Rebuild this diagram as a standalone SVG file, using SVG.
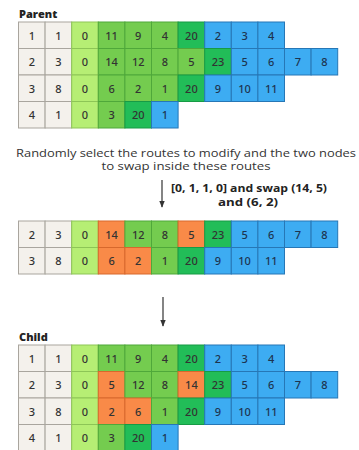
<svg xmlns="http://www.w3.org/2000/svg" width="359" height="450" viewBox="0 0 359 450">
<style>
rect{stroke-width:1}
.g{fill:#f4f1ec;stroke:#a9a59e}
.lg{fill:#b6ee74;stroke:#8dc556}
.mg{fill:#74cc4f;stroke:#4fa83a}
.dg{fill:#22bd58;stroke:#179a45}
.b{fill:#3dacf2;stroke:#2677b6}
.o{fill:#f98a48;stroke:#d7682c}
text{font-family:"Noto Sans","Liberation Sans",sans-serif;font-size:11px;font-weight:500;fill:#333;text-anchor:middle}
.bt{fill:#1d3450}
.ttl{font-family:"Open Sans","Liberation Sans",sans-serif;font-weight:800;font-size:11px;text-anchor:start;fill:#222}
.cap{font-family:"Open Sans","Liberation Sans",sans-serif;font-size:10px;font-weight:500;fill:#333}
.lbl{font-family:"Open Sans","Liberation Sans",sans-serif;font-size:9.8px;font-weight:700;fill:#222}
.arr{stroke:#333;stroke-width:1.2;fill:none}
</style>
<defs>
<marker id="ah" viewBox="0 0 10 10" refX="9" refY="5" markerWidth="6" markerHeight="6" orient="auto"><path d="M0,1 L10,5 L0,9 z" fill="#333"/></marker>
</defs>

<g id="parent">
<text class="ttl" x="19" y="18">Parent</text>
<g transform="translate(18.5,22)">
<rect class="g" x="0" y="0" width="26.6" height="26.5"/><text x="13.3" y="17.5">1</text>
<rect class="g" x="26.6" y="0" width="26.6" height="26.5"/><text x="39.9" y="17.5">1</text>
<rect class="lg" x="53.2" y="0" width="26.6" height="26.5"/><text x="66.5" y="17.5">0</text>
<rect class="mg" x="79.8" y="0" width="26.6" height="26.5"/><text x="93.1" y="17.5">11</text>
<rect class="mg" x="106.4" y="0" width="26.6" height="26.5"/><text x="119.7" y="17.5">9</text>
<rect class="mg" x="133" y="0" width="26.6" height="26.5"/><text x="146.3" y="17.5">4</text>
<rect class="dg" x="159.6" y="0" width="26.6" height="26.5"/><text x="172.9" y="17.5">20</text>
<rect class="b" x="186.2" y="0" width="26.6" height="26.5"/><text class="bt" x="199.5" y="17.5">2</text>
<rect class="b" x="212.8" y="0" width="26.6" height="26.5"/><text class="bt" x="226.1" y="17.5">3</text>
<rect class="b" x="239.4" y="0" width="26.6" height="26.5"/><text class="bt" x="252.7" y="17.5">4</text>
</g>
<g transform="translate(18.5,48.5)">
<rect class="g" x="0" y="0" width="26.6" height="26.5"/><text x="13.3" y="17.5">2</text>
<rect class="g" x="26.6" y="0" width="26.6" height="26.5"/><text x="39.9" y="17.5">3</text>
<rect class="lg" x="53.2" y="0" width="26.6" height="26.5"/><text x="66.5" y="17.5">0</text>
<rect class="mg" x="79.8" y="0" width="26.6" height="26.5"/><text x="93.1" y="17.5">14</text>
<rect class="mg" x="106.4" y="0" width="26.6" height="26.5"/><text x="119.7" y="17.5">12</text>
<rect class="mg" x="133" y="0" width="26.6" height="26.5"/><text x="146.3" y="17.5">8</text>
<rect class="mg" x="159.6" y="0" width="26.6" height="26.5"/><text x="172.9" y="17.5">5</text>
<rect class="dg" x="186.2" y="0" width="26.6" height="26.5"/><text x="199.5" y="17.5">23</text>
<rect class="b" x="212.8" y="0" width="26.6" height="26.5"/><text class="bt" x="226.1" y="17.5">5</text>
<rect class="b" x="239.4" y="0" width="26.6" height="26.5"/><text class="bt" x="252.7" y="17.5">6</text>
<rect class="b" x="266" y="0" width="26.6" height="26.5"/><text class="bt" x="279.3" y="17.5">7</text>
<rect class="b" x="292.6" y="0" width="26.6" height="26.5"/><text class="bt" x="305.9" y="17.5">8</text>
</g>
<g transform="translate(18.5,75)">
<rect class="g" x="0" y="0" width="26.6" height="26.5"/><text x="13.3" y="17.5">3</text>
<rect class="g" x="26.6" y="0" width="26.6" height="26.5"/><text x="39.9" y="17.5">8</text>
<rect class="lg" x="53.2" y="0" width="26.6" height="26.5"/><text x="66.5" y="17.5">0</text>
<rect class="mg" x="79.8" y="0" width="26.6" height="26.5"/><text x="93.1" y="17.5">6</text>
<rect class="mg" x="106.4" y="0" width="26.6" height="26.5"/><text x="119.7" y="17.5">2</text>
<rect class="mg" x="133" y="0" width="26.6" height="26.5"/><text x="146.3" y="17.5">1</text>
<rect class="dg" x="159.6" y="0" width="26.6" height="26.5"/><text x="172.9" y="17.5">20</text>
<rect class="b" x="186.2" y="0" width="26.6" height="26.5"/><text class="bt" x="199.5" y="17.5">9</text>
<rect class="b" x="212.8" y="0" width="26.6" height="26.5"/><text class="bt" x="226.1" y="17.5">10</text>
<rect class="b" x="239.4" y="0" width="26.6" height="26.5"/><text class="bt" x="252.7" y="17.5">11</text>
</g>
<g transform="translate(18.5,101.5)">
<rect class="g" x="0" y="0" width="26.6" height="26.5"/><text x="13.3" y="17.5">4</text>
<rect class="g" x="26.6" y="0" width="26.6" height="26.5"/><text x="39.9" y="17.5">1</text>
<rect class="lg" x="53.2" y="0" width="26.6" height="26.5"/><text x="66.5" y="17.5">0</text>
<rect class="mg" x="79.8" y="0" width="26.6" height="26.5"/><text x="93.1" y="17.5">3</text>
<rect class="dg" x="106.4" y="0" width="26.6" height="26.5"/><text x="119.7" y="17.5">20</text>
<rect class="b" x="133" y="0" width="26.6" height="26.5"/><text class="bt" x="146.3" y="17.5">1</text>
</g>
</g>

<g id="caption">
<text class="cap" x="186" y="157" textLength="340" lengthAdjust="spacingAndGlyphs">Randomly select the routes to modify and the two nodes</text>
<text class="cap" x="186" y="170" textLength="169" lengthAdjust="spacingAndGlyphs">to swap inside these routes</text>
</g>

<g id="swap-label">
<text class="lbl" x="249" y="192" textLength="156" lengthAdjust="spacingAndGlyphs">[0, 1, 1, 0] and swap (14, 5)</text>
<text class="lbl" x="248" y="205.5" textLength="60" lengthAdjust="spacingAndGlyphs">and (6, 2)</text>
</g>

<g id="modified">
<g transform="translate(18.5,221)">
<rect class="g" x="0" y="0" width="26.6" height="26.5"/><text x="13.3" y="17.5">2</text>
<rect class="g" x="26.6" y="0" width="26.6" height="26.5"/><text x="39.9" y="17.5">3</text>
<rect class="lg" x="53.2" y="0" width="26.6" height="26.5"/><text x="66.5" y="17.5">0</text>
<rect class="o" x="79.8" y="0" width="26.6" height="26.5"/><text x="93.1" y="17.5">14</text>
<rect class="mg" x="106.4" y="0" width="26.6" height="26.5"/><text x="119.7" y="17.5">12</text>
<rect class="mg" x="133" y="0" width="26.6" height="26.5"/><text x="146.3" y="17.5">8</text>
<rect class="o" x="159.6" y="0" width="26.6" height="26.5"/><text x="172.9" y="17.5">5</text>
<rect class="dg" x="186.2" y="0" width="26.6" height="26.5"/><text x="199.5" y="17.5">23</text>
<rect class="b" x="212.8" y="0" width="26.6" height="26.5"/><text class="bt" x="226.1" y="17.5">5</text>
<rect class="b" x="239.4" y="0" width="26.6" height="26.5"/><text class="bt" x="252.7" y="17.5">6</text>
<rect class="b" x="266" y="0" width="26.6" height="26.5"/><text class="bt" x="279.3" y="17.5">7</text>
<rect class="b" x="292.6" y="0" width="26.6" height="26.5"/><text class="bt" x="305.9" y="17.5">8</text>
</g>
<g transform="translate(18.5,247.5)">
<rect class="g" x="0" y="0" width="26.6" height="26.5"/><text x="13.3" y="17.5">3</text>
<rect class="g" x="26.6" y="0" width="26.6" height="26.5"/><text x="39.9" y="17.5">8</text>
<rect class="lg" x="53.2" y="0" width="26.6" height="26.5"/><text x="66.5" y="17.5">0</text>
<rect class="o" x="79.8" y="0" width="26.6" height="26.5"/><text x="93.1" y="17.5">6</text>
<rect class="o" x="106.4" y="0" width="26.6" height="26.5"/><text x="119.7" y="17.5">2</text>
<rect class="mg" x="133" y="0" width="26.6" height="26.5"/><text x="146.3" y="17.5">1</text>
<rect class="dg" x="159.6" y="0" width="26.6" height="26.5"/><text x="172.9" y="17.5">20</text>
<rect class="b" x="186.2" y="0" width="26.6" height="26.5"/><text class="bt" x="199.5" y="17.5">9</text>
<rect class="b" x="212.8" y="0" width="26.6" height="26.5"/><text class="bt" x="226.1" y="17.5">10</text>
<rect class="b" x="239.4" y="0" width="26.6" height="26.5"/><text class="bt" x="252.7" y="17.5">11</text>
</g>
</g>

<g id="child">
<text class="ttl" x="19" y="341">Child</text>
<g transform="translate(18.5,345)">
<rect class="g" x="0" y="0" width="26.6" height="26.5"/><text x="13.3" y="17.5">1</text>
<rect class="g" x="26.6" y="0" width="26.6" height="26.5"/><text x="39.9" y="17.5">1</text>
<rect class="lg" x="53.2" y="0" width="26.6" height="26.5"/><text x="66.5" y="17.5">0</text>
<rect class="mg" x="79.8" y="0" width="26.6" height="26.5"/><text x="93.1" y="17.5">11</text>
<rect class="mg" x="106.4" y="0" width="26.6" height="26.5"/><text x="119.7" y="17.5">9</text>
<rect class="mg" x="133" y="0" width="26.6" height="26.5"/><text x="146.3" y="17.5">4</text>
<rect class="dg" x="159.6" y="0" width="26.6" height="26.5"/><text x="172.9" y="17.5">20</text>
<rect class="b" x="186.2" y="0" width="26.6" height="26.5"/><text class="bt" x="199.5" y="17.5">2</text>
<rect class="b" x="212.8" y="0" width="26.6" height="26.5"/><text class="bt" x="226.1" y="17.5">3</text>
<rect class="b" x="239.4" y="0" width="26.6" height="26.5"/><text class="bt" x="252.7" y="17.5">4</text>
</g>
<g transform="translate(18.5,371.5)">
<rect class="g" x="0" y="0" width="26.6" height="26.5"/><text x="13.3" y="17.5">2</text>
<rect class="g" x="26.6" y="0" width="26.6" height="26.5"/><text x="39.9" y="17.5">3</text>
<rect class="lg" x="53.2" y="0" width="26.6" height="26.5"/><text x="66.5" y="17.5">0</text>
<rect class="o" x="79.8" y="0" width="26.6" height="26.5"/><text x="93.1" y="17.5">5</text>
<rect class="mg" x="106.4" y="0" width="26.6" height="26.5"/><text x="119.7" y="17.5">12</text>
<rect class="mg" x="133" y="0" width="26.6" height="26.5"/><text x="146.3" y="17.5">8</text>
<rect class="o" x="159.6" y="0" width="26.6" height="26.5"/><text x="172.9" y="17.5">14</text>
<rect class="dg" x="186.2" y="0" width="26.6" height="26.5"/><text x="199.5" y="17.5">23</text>
<rect class="b" x="212.8" y="0" width="26.6" height="26.5"/><text class="bt" x="226.1" y="17.5">5</text>
<rect class="b" x="239.4" y="0" width="26.6" height="26.5"/><text class="bt" x="252.7" y="17.5">6</text>
<rect class="b" x="266" y="0" width="26.6" height="26.5"/><text class="bt" x="279.3" y="17.5">7</text>
<rect class="b" x="292.6" y="0" width="26.6" height="26.5"/><text class="bt" x="305.9" y="17.5">8</text>
</g>
<g transform="translate(18.5,398)">
<rect class="g" x="0" y="0" width="26.6" height="26.5"/><text x="13.3" y="17.5">3</text>
<rect class="g" x="26.6" y="0" width="26.6" height="26.5"/><text x="39.9" y="17.5">8</text>
<rect class="lg" x="53.2" y="0" width="26.6" height="26.5"/><text x="66.5" y="17.5">0</text>
<rect class="o" x="79.8" y="0" width="26.6" height="26.5"/><text x="93.1" y="17.5">2</text>
<rect class="o" x="106.4" y="0" width="26.6" height="26.5"/><text x="119.7" y="17.5">6</text>
<rect class="mg" x="133" y="0" width="26.6" height="26.5"/><text x="146.3" y="17.5">1</text>
<rect class="dg" x="159.6" y="0" width="26.6" height="26.5"/><text x="172.9" y="17.5">20</text>
<rect class="b" x="186.2" y="0" width="26.6" height="26.5"/><text class="bt" x="199.5" y="17.5">9</text>
<rect class="b" x="212.8" y="0" width="26.6" height="26.5"/><text class="bt" x="226.1" y="17.5">10</text>
<rect class="b" x="239.4" y="0" width="26.6" height="26.5"/><text class="bt" x="252.7" y="17.5">11</text>
</g>
<g transform="translate(18.5,424.5)">
<rect class="g" x="0" y="0" width="26.6" height="26.5"/><text x="13.3" y="17.5">4</text>
<rect class="g" x="26.6" y="0" width="26.6" height="26.5"/><text x="39.9" y="17.5">1</text>
<rect class="lg" x="53.2" y="0" width="26.6" height="26.5"/><text x="66.5" y="17.5">0</text>
<rect class="mg" x="79.8" y="0" width="26.6" height="26.5"/><text x="93.1" y="17.5">3</text>
<rect class="dg" x="106.4" y="0" width="26.6" height="26.5"/><text x="119.7" y="17.5">20</text>
<rect class="b" x="133" y="0" width="26.6" height="26.5"/><text class="bt" x="146.3" y="17.5">1</text>
</g>
</g>

<g id="connectors">
<line class="arr" x1="162" y1="180" x2="162" y2="207" marker-end="url(#ah)"/>
<line class="arr" x1="163" y1="297" x2="163" y2="326" marker-end="url(#ah)"/>
</g>
</svg>
